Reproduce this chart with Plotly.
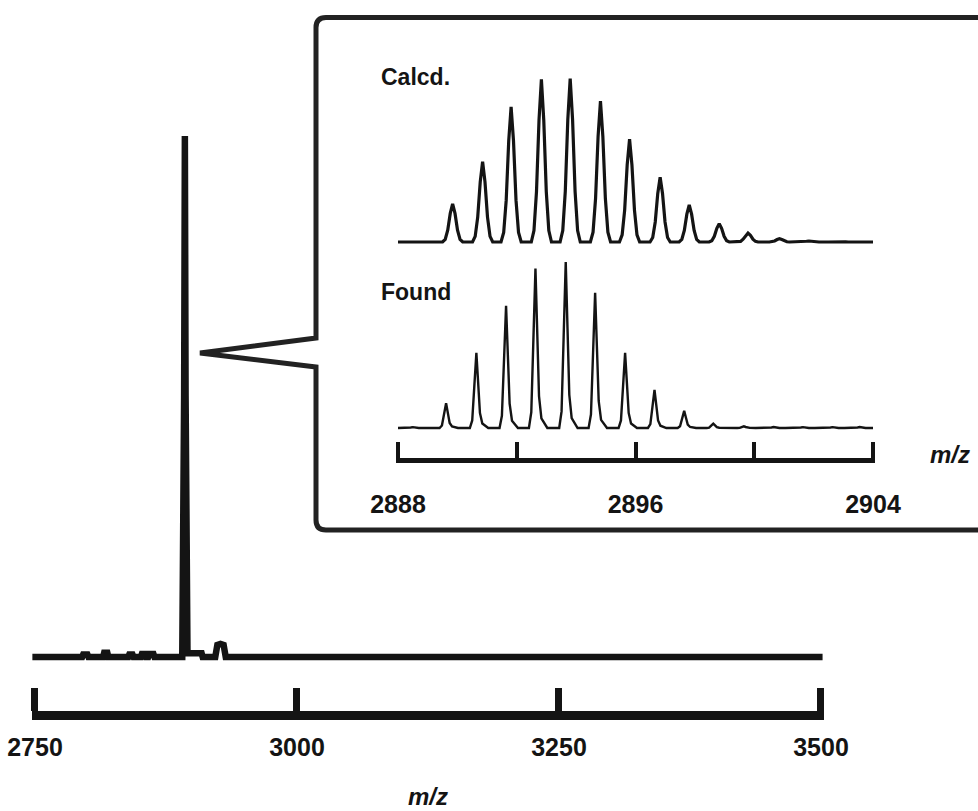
import plotly.graph_objects as go

# ---------------- data ----------------
# full-range spectrum (m/z, relative intensity %)
main_mz = [2747.5, 2781, 2782, 2789, 2790, 2795, 2796, 2800, 2801, 2815, 2816, 2819, 2820,
           2839, 2840, 2843, 2844, 2851, 2852, 2855, 2856, 2858, 2859, 2863, 2864,
           2890.5, 2892.3, 2893.0, 2893.7, 2895.5, 2898, 2899, 2909, 2910,
           2922, 2924, 2927, 2930, 2932, 3501.5]
main_int = [0, 0, 0.3, 0.3, 0, 0, 0.5, 0.5, 0, 0, 0.8, 0.8, 0,
            0, 0.5, 0.5, 0, 0, 0.6, 0.6, 0, 0, 0.6, 0.6, 0,
            0, 50, 100, 50, 0.7, 0.7, 0.7, 0.7, 0,
            0, 2.3, 2.5, 2.3, 0, 0]
main_ticks = [2750, 3000, 3250, 3500]

# isotope pattern, calculated (peak m/z, relative intensity %)
calcd_peak_mz = [2889.84, 2890.85, 2891.81, 2892.83, 2893.80, 2894.82, 2895.80,
                 2896.83, 2897.81, 2898.82, 2899.79, 2900.85, 2901.84, 2902.83]
calcd_peak_int = [23.3, 49.1, 82.6, 99.4, 100, 86.2, 62.9,
                  39.6, 22.7, 11.2, 5.5, 2.0, 0.6, 0.4]

# isotope pattern, found
found_peak_mz = [2888.50, 2889.62, 2890.64, 2891.64, 2892.63, 2893.65, 2894.64, 2895.65,
                 2896.64, 2897.64, 2898.62, 2899.65, 2900.65, 2901.64, 2902.64, 2903.55]
found_peak_int = [0.5, 14.9, 45.3, 73.6, 96.0, 100, 81.5, 45.3,
                  22.9, 10.3, 2.6, 1.0, 0.6, 0.5, 0.5, 0.6]

inset_range = [2888, 2904]
inset_ticks = [2888, 2892, 2896, 2900, 2904]
inset_tick_labels = ["2888", "", "2896", "", "2904"]

# ---------------- drawing style ----------------
INK = "#141414"
W, H = 978, 811
# glyph used to draw one isotope peak: offsets (m/z) and fraction of the peak height
CALCD_DX = [-0.34, -0.25, -0.165, -0.08, 0.0, 0.08, 0.165, 0.25, 0.34]
CALCD_FR = [0.0, 0.07, 0.31, 0.75, 1.0, 0.75, 0.31, 0.07, 0.0]
FOUND_DX = [-0.22, -0.14, -0.07, 0.0, 0.06, 0.12, 0.20, 0.40]
FOUND_FR = [0.0, 0.10, 0.55, 1.0, 0.60, 0.20, 0.06, 0.0]


def profile(centres, heights, dx, fr, start, end):
    xs, ys = [start], [0.0]
    for c, h in zip(centres, heights):
        for d, f in zip(dx, fr):
            xs.append(c + d)
            ys.append(h * f)
    xs.append(end)
    ys.append(0.0)
    return xs, ys


def px(x):
    return x / W


def py(y):
    return 1 - y / H


calcd_x, calcd_y = profile(calcd_peak_mz, calcd_peak_int, CALCD_DX, CALCD_FR, *inset_range)
found_x, found_y = profile(found_peak_mz, found_peak_int, FOUND_DX, FOUND_FR, *inset_range)

fig = go.Figure()
fig.add_trace(go.Scatter(x=main_mz, y=main_int, mode="lines", xaxis="x", yaxis="y",
                         line=dict(color=INK, width=6.5), hoverinfo="skip"))
fig.add_trace(go.Scatter(x=calcd_x, y=calcd_y, mode="lines", xaxis="x2", yaxis="y2",
                         line=dict(color=INK, width=3.2), hoverinfo="skip"))
fig.add_trace(go.Scatter(x=found_x, y=found_y, mode="lines", xaxis="x3", yaxis="y3",
                         line=dict(color=INK, width=2.4), hoverinfo="skip"))

tick_font = dict(family="Liberation Sans", size=25, color=INK, weight="bold")
label_font = dict(family="Liberation Sans", size=23, color=INK, weight="bold")
mz_font = dict(family="Liberation Sans", size=24, color=INK, weight="bold", style="italic")

# main axis: 2750 -> 35 px, 3500 -> 821 px; range padded 3 units so end ticks show
main_pad = 3
main_scale = (821 - 35) / (3500 - 2750)
main_dom = [px(35 - main_pad * main_scale), px(821 + main_pad * main_scale)]
# inset axis: 2888 -> 398 px, 2904 -> 873 px
inset_pad = 0.08
inset_scale = (873 - 398) / (inset_range[1] - inset_range[0])
inset_dom = [px(398 - inset_pad * inset_scale), px(873 + inset_pad * inset_scale)]
inset_rng = [inset_range[0] - inset_pad, inset_range[1] + inset_pad]

fig.update_layout(
    width=W, height=H, autosize=False,
    margin=dict(l=0, r=0, t=0, b=0, autoexpand=False),
    paper_bgcolor="white", plot_bgcolor="white",
    showlegend=False,
    xaxis=dict(domain=main_dom, range=[2750 - main_pad, 3500 + main_pad], anchor="y",
               automargin=False,
               showline=True, linewidth=9, linecolor=INK,
               ticks="inside", ticklen=23, tickwidth=7, tickcolor=INK,
               tickvals=main_ticks, ticktext=[str(t) for t in main_ticks],
               tickfont=tick_font, ticklabelstandoff=6,
               showgrid=False, zeroline=False,
               title=dict(text="m/z", font=mz_font, standoff=32)),
    yaxis=dict(domain=[py(711), py(100)], range=[-10.36, 106.9], anchor="x",
               visible=False, automargin=False),
    xaxis2=dict(domain=inset_dom, range=inset_rng, anchor="y2", visible=False, automargin=False),
    yaxis2=dict(domain=[py(250), py(60)], range=[-4.893, 111.3], anchor="x2",
                visible=False, automargin=False),
    xaxis3=dict(domain=inset_dom, range=inset_rng, anchor="y3", automargin=False,
                showline=True, linewidth=5, linecolor=INK,
                ticks="inside", ticklen=16, tickwidth=4, tickcolor=INK,
                tickvals=inset_ticks, ticktext=inset_tick_labels,
                tickfont=tick_font, ticklabelstandoff=20,
                showgrid=False, zeroline=False),
    yaxis3=dict(domain=[py(458), py(250)], range=[-18.07, 107.2], anchor="x3",
                visible=False, automargin=False),
)

# inset frame with callout pointer (decoration, in figure pixels)
r = 10
path = (f"M {px(316)},{py(338)} L {px(316)},{py(17.5 + r)} "
        f"Q {px(316)},{py(17.5)} {px(316 + r)},{py(17.5)} "
        f"L {px(1010)},{py(17.5)} L {px(1010)},{py(530)} L {px(316 + r)},{py(530)} "
        f"Q {px(316)},{py(530)} {px(316)},{py(530 - r)} "
        f"L {px(316)},{py(367)} L {px(200)},{py(353)} Z")
fig.add_shape(type="path", path=path, xref="paper", yref="paper",
              line=dict(color="#222222", width=5), fillcolor="rgba(0,0,0,0)", layer="above")

fig.add_annotation(text="Calcd.", x=px(379), y=py(77), xref="paper", yref="paper",
                   xanchor="left", yanchor="middle", showarrow=False, font=label_font)
fig.add_annotation(text="Found", x=px(379), y=py(292), xref="paper", yref="paper",
                   xanchor="left", yanchor="middle", showarrow=False, font=label_font)
fig.add_annotation(text="m/z", x=px(950), y=py(454), xref="paper", yref="paper",
                   xanchor="center", yanchor="middle", showarrow=False, font=mz_font)

fig.write_html(
    "out.html",
    config={"displayModeBar": False, "staticPlot": True},
    post_script="document.body.style.margin='0';document.body.style.overflow='hidden';",
)
